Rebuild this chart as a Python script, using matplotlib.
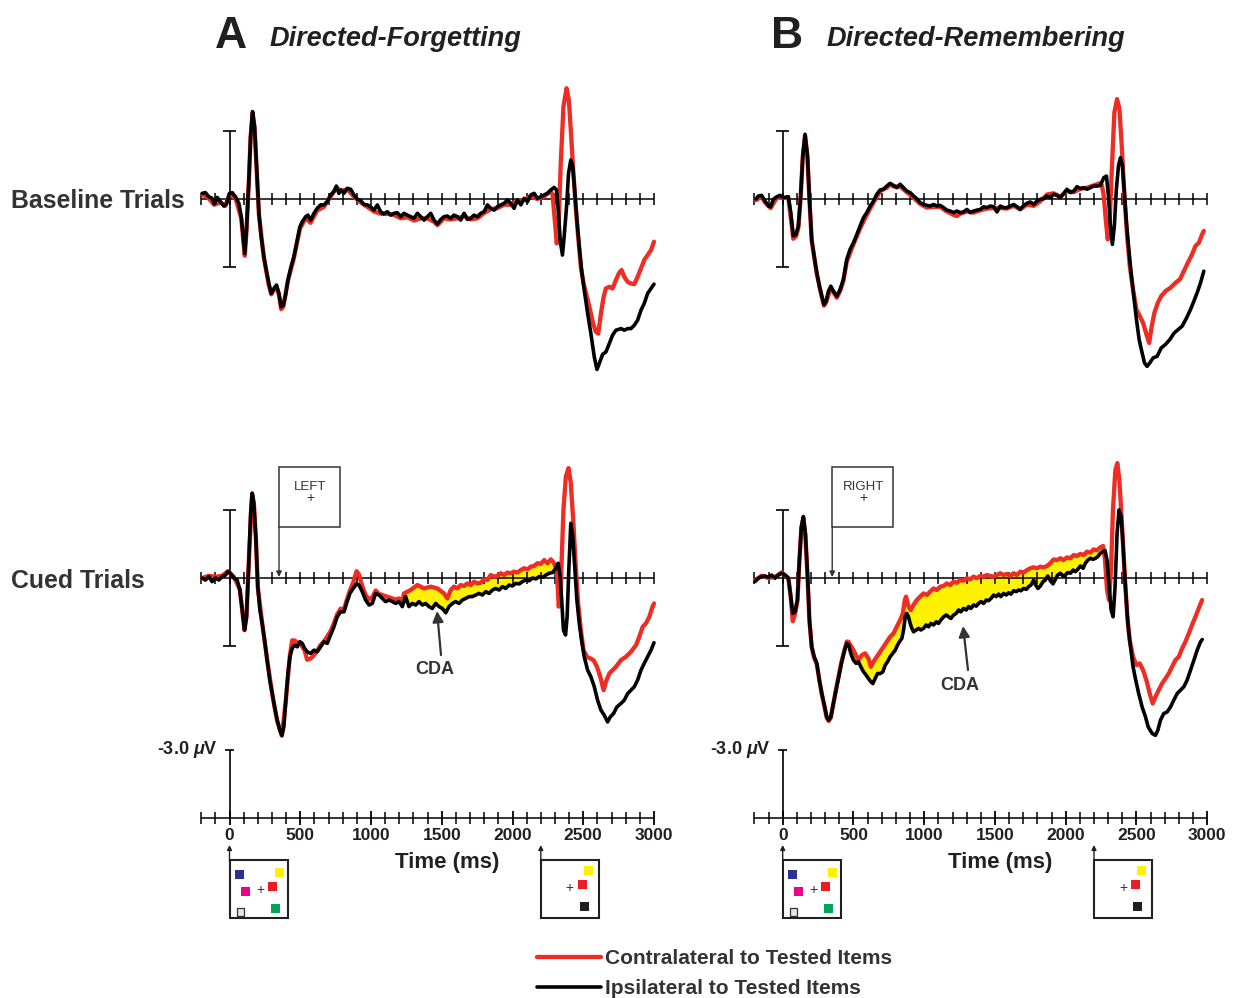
import matplotlib
matplotlib.use("Agg")
import matplotlib.pyplot as plt
import numpy as np
from matplotlib.patches import Rectangle

plt.rcParams['font.family'] = ['Liberation Sans', 'DejaVu Sans']
plt.rcParams['mathtext.fontset'] = 'custom'
plt.rcParams['mathtext.it'] = 'Liberation Sans:italic:bold'
plt.rcParams['mathtext.rm'] = 'Liberation Sans:bold'

# ---------------- data (time ms, amplitude uV; negative plotted up) ----------------
A_BASE_IPSI = [(-193,-0.25),(-170,-0.28),(-146,-0.1),(-123,-0.03),(-106,0.22),(-87,-0.07),(-64,0.12),(-40,0.31),(-21,0.22),(0,-0.25),(19,-0.28),(42,-0.1),(66,0.19),(83,0.78),(97,1.66),(108,2.4),(120,1.37),(137,-0.84),(149,-2.75),(163,-3.85),(177,-3.19),(191,-1.43),(208,0.63),(224,1.66),(243,2.54),(262,3.21),(278,3.72),(295,4.16),(314,3.94),(332,3.79),(349,4.16),(365,4.75),(380,4.68),(396,4.24),(413,3.57),(432,3.06),(455,2.54),(479,1.81),(498,1.22),(514,1.0),(538,0.78),(554,0.71),(573,0.93),(597,0.63),(620,0.41),(644,0.26),(667,0.26),(691,0.12),(714,-0.18),(738,-0.32),(755,-0.57),(773,-0.25),(790,-0.4),(809,-0.25),(832,-0.47),(856,-0.43),(880,-0.18),(903,0.01),(927,0.07),(950,0.24),(974,0.26),(997,0.34),(1021,0.49),(1045,0.26),(1068,0.56),(1092,0.66),(1115,0.56),(1139,0.71),(1162,0.63),(1186,0.6),(1210,0.78),(1233,0.63),(1257,0.71),(1280,0.78),(1304,0.85),(1328,0.63),(1351,0.78),(1375,0.93),(1398,0.78),(1422,0.63),(1445,0.93),(1469,1.1),(1493,0.9),(1516,0.78),(1540,0.75),(1563,0.85),(1587,0.71),(1611,0.78),(1634,0.93),(1658,0.63),(1681,0.9),(1705,0.85),(1728,0.71),(1752,0.78),(1776,0.63),(1799,0.56),(1823,0.26),(1846,0.41),(1870,0.49),(1893,0.34),(1917,0.26),(1941,0.19),(1964,0.04),(1988,0.19),(2011,0.41),(2035,0.04),(2059,0.26),(2082,-0.03),(2106,0.12),(2129,-0.18),(2153,-0.25),(2176,-0.03),(2200,-0.1),(2224,-0.18),(2247,-0.25),(2271,-0.4),(2294,-0.51),(2311,-0.4),(2325,0.63),(2337,1.81),(2353,2.47),(2365,1.66),(2382,0.34),(2396,-1.13),(2412,-1.72),(2426,-1.43),(2441,-0.25),(2455,0.93),(2472,2.1),(2488,3.13),(2507,4.01),(2531,5.04),(2554,5.93),(2578,6.96),(2597,7.51),(2613,7.25),(2637,6.84),(2660,6.74),(2684,6.37),(2707,6.0),(2731,5.78),(2767,5.71),(2790,5.78),(2814,5.71),(2837,5.71),(2861,5.56),(2884,5.34),(2908,4.9),(2931,4.6),(2955,4.16),(2979,3.94),(3000,3.75)]

A_BASE_CONTRA = [(-193,-0.2),(-150,-0.05),(-110,0.25),(-64,0.15),(-30,0.3),(0,-0.2),(42,-0.05),(83,0.85),(108,2.5),(120,1.4),(137,-0.8),(149,-2.7),(163,-3.8),(177,-3.15),(191,-1.4),(208,0.7),(243,2.6),(278,3.8),(295,4.2),(314,4.0),(332,3.85),(349,4.2),(365,4.85),(380,4.75),(413,3.6),(455,2.6),(498,1.3),(538,0.85),(573,1.05),(620,0.5),(667,0.35),(714,-0.1),(755,-0.5),(790,-0.35),(832,-0.42),(880,-0.1),(927,0.15),(974,0.35),(1021,0.55),(1068,0.65),(1115,0.65),(1162,0.7),(1210,0.85),(1257,0.8),(1304,0.95),(1351,0.85),(1398,0.85),(1445,1.0),(1469,1.15),(1516,0.85),(1563,0.9),(1611,0.85),(1658,0.75),(1705,0.9),(1752,0.85),(1799,0.62),(1846,0.45),(1893,0.4),(1941,0.25),(1988,0.25),(2035,0.1),(2082,0.05),(2129,-0.12),(2176,0.0),(2224,-0.12),(2271,-0.35),(2283,-0.18),(2299,0.93),(2313,1.96),(2327,0.93),(2341,-1.57),(2360,-4.07),(2382,-4.88),(2398,-4.37),(2412,-3.04),(2429,-1.28),(2447,0.34),(2464,1.66),(2483,2.99),(2502,3.72),(2526,4.31),(2549,4.9),(2570,5.49),(2589,5.85),(2606,5.93),(2625,5.04),(2644,4.31),(2660,3.94),(2684,3.87),(2707,3.94),(2731,3.57),(2754,3.25),(2771,3.13),(2790,3.43),(2814,3.65),(2837,3.72),(2861,3.75),(2884,3.43),(2908,3.06),(2931,2.69),(2955,2.47),(2979,2.25),(3000,1.88)]

A_CUED_IPSI = [(-193,0.0),(-170,0.09),(-146,-0.06),(-123,0.16),(-99,0.0),(-75,0.09),(-52,-0.06),(-28,-0.13),(-12,-0.28),(7,-0.21),(31,0.0),(54,0.09),(73,0.53),(90,1.41),(106,2.29),(120,1.71),(137,-0.79),(149,-2.85),(160,-3.74),(172,-3.29),(186,-1.82),(200,0.38),(215,1.41),(231,2.0),(248,2.74),(266,3.62),(285,4.5),(302,5.09),(318,5.68),(337,6.26),(356,6.71),(370,6.93),(384,6.56),(398,5.38),(413,4.21),(427,3.47),(443,3.1),(460,2.96),(479,3.03),(498,2.81),(514,2.88),(531,3.1),(549,3.25),(573,3.32),(597,3.18),(620,3.25),(644,3.03),(667,2.81),(691,2.88),(714,2.51),(738,2.15),(761,1.71),(785,1.49),(809,1.49),(827,1.12),(851,0.68),(874,0.46),(898,0.26),(915,0.31),(938,0.6),(962,0.97),(986,1.19),(1009,1.12),(1033,0.68),(1056,0.75),(1080,0.9),(1103,1.04),(1127,0.97),(1151,1.04),(1174,1.12),(1198,1.04),(1221,1.26),(1245,0.82),(1268,1.26),(1292,1.12),(1316,1.19),(1339,1.04),(1363,1.19),(1386,1.12),(1410,1.26),(1433,1.34),(1457,1.12),(1481,1.26),(1504,1.34),(1528,1.53),(1551,1.26),(1575,1.12),(1598,1.04),(1622,1.12),(1645,0.97),(1669,0.9),(1693,0.82),(1716,0.82),(1740,0.75),(1763,0.68),(1787,0.75),(1811,0.6),(1834,0.68),(1858,0.53),(1881,0.46),(1905,0.53),(1929,0.38),(1952,0.46),(1976,0.31),(1999,0.35),(2023,0.24),(2047,0.26),(2070,0.16),(2094,0.09),(2118,0.12),(2141,0.0),(2165,0.04),(2188,-0.06),(2212,-0.03),(2236,-0.13),(2259,-0.21),(2283,-0.24),(2306,-0.43),(2323,-0.65),(2337,-0.06),(2349,1.12),(2360,2.29),(2375,2.51),(2386,1.71),(2398,-0.35),(2412,-2.41),(2426,-1.82),(2441,-0.35),(2455,0.97),(2472,2.0),(2488,2.74),(2507,3.47),(2531,4.06),(2554,4.35),(2578,4.79),(2601,5.38),(2625,5.82),(2648,6.04),(2672,6.34),(2691,6.12),(2714,5.97),(2738,5.68),(2766,5.53),(2790,5.38),(2814,5.09),(2837,4.94),(2861,4.79),(2884,4.5),(2908,4.06),(2931,3.76),(2955,3.47),(2979,3.18),(3000,2.85)]

A_CUED_CONTRA = [(-193,0.0),(-146,-0.1),(-99,-0.05),(-52,-0.1),(-12,-0.3),(31,-0.05),(73,0.5),(106,2.3),(120,1.7),(137,-0.8),(160,-3.7),(172,-3.3),(186,-1.8),(200,0.4),(231,2.0),(266,3.6),(302,5.1),(337,6.3),(370,6.95),(398,5.4),(427,3.4),(443,2.75),(460,2.75),(479,2.85),(498,2.85),(531,3.2),(549,3.6),(573,3.55),(597,3.4),(620,3.2),(644,2.95),(667,2.8),(714,2.35),(738,2.0),(761,1.6),(785,1.35),(809,1.4),(827,1.0),(851,0.55),(874,0.2),(898,-0.3),(915,-0.15),(938,0.35),(962,0.75),(986,0.95),(1009,0.85),(1033,0.55),(1056,0.7),(1080,0.75),(1103,0.8),(1127,0.85),(1151,0.9),(1174,0.95),(1198,0.9),(1221,1.05),(1233,0.68),(1280,0.53),(1328,0.31),(1375,0.46),(1422,0.38),(1469,0.46),(1516,0.68),(1540,0.9),(1563,0.53),(1587,0.38),(1611,0.46),(1634,0.31),(1658,0.35),(1681,0.24),(1705,0.31),(1728,0.16),(1752,0.24),(1776,0.21),(1799,0.06),(1823,0.09),(1846,-0.13),(1870,-0.06),(1893,-0.09),(1917,-0.21),(1941,-0.13),(1964,-0.24),(1988,-0.21),(2011,-0.28),(2035,-0.24),(2059,-0.35),(2082,-0.43),(2106,-0.38),(2129,-0.5),(2153,-0.53),(2176,-0.65),(2200,-0.62),(2224,-0.79),(2247,-0.65),(2271,-0.82),(2294,-0.65),(2313,-0.35),(2327,1.26),(2341,0.38),(2360,-3.0),(2377,-4.47),(2396,-4.84),(2412,-4.18),(2429,-2.56),(2447,-0.5),(2464,1.12),(2483,2.29),(2502,3.18),(2526,3.47),(2549,3.54),(2573,3.62),(2597,3.91),(2620,4.35),(2644,4.94),(2660,4.57),(2684,4.21),(2707,4.06),(2731,3.91),(2766,3.62),(2802,3.47),(2837,3.25),(2873,2.96),(2896,2.59),(2920,2.15),(2943,2.0),(2967,1.71),(2990,1.26),(3000,1.12)]

B_BASE_IPSI = [(-189,0.0),(-172,-0.13),(-149,-0.16),(-125,0.09),(-101,0.31),(-85,0.34),(-66,0.01),(-42,-0.1),(-19,-0.16),(5,-0.06),(40,-0.1),(57,0.6),(75,1.63),(94,1.56),(111,1.19),(127,-0.13),(142,-1.9),(158,-2.85),(175,-1.9),(189,0.01),(205,1.78),(222,2.51),(241,3.25),(259,3.84),(276,4.28),(292,4.65),(307,4.5),(323,4.06),(340,3.84),(358,4.06),(382,4.28),(406,3.99),(429,3.54),(453,2.66),(476,2.22),(500,1.93),(524,1.56),(547,1.19),(571,0.82),(594,0.6),(618,0.31),(642,0.09),(665,-0.21),(689,-0.4),(712,-0.43),(736,-0.57),(759,-0.69),(783,-0.6),(807,-0.5),(830,-0.65),(854,-0.5),(877,-0.35),(901,-0.28),(925,-0.13),(948,-0.01),(972,0.16),(995,0.24),(1019,0.28),(1042,0.31),(1066,0.24),(1090,0.31),(1113,0.28),(1137,0.38),(1160,0.49),(1184,0.53),(1208,0.6),(1231,0.53),(1255,0.6),(1278,0.57),(1302,0.46),(1325,0.6),(1349,0.53),(1373,0.49),(1396,0.46),(1420,0.34),(1443,0.38),(1467,0.31),(1491,0.34),(1514,0.57),(1538,0.31),(1561,0.38),(1585,0.38),(1608,0.31),(1632,0.24),(1656,0.34),(1679,0.46),(1703,0.28),(1726,0.19),(1750,0.13),(1774,0.24),(1797,0.09),(1821,0.01),(1844,-0.01),(1868,-0.13),(1892,-0.06),(1915,-0.21),(1939,-0.16),(1962,-0.06),(1986,-0.25),(2009,-0.43),(2033,-0.28),(2057,-0.35),(2080,-0.54),(2104,-0.46),(2127,-0.5),(2151,-0.43),(2175,-0.5),(2198,-0.57),(2222,-0.57),(2245,-0.6),(2269,-0.94),(2288,-1.01),(2302,-0.13),(2316,1.19),(2330,2.0),(2344,1.19),(2358,-0.43),(2373,-1.46),(2387,-1.82),(2401,-1.46),(2415,-0.28),(2429,1.04),(2446,2.22),(2462,3.25),(2481,4.28),(2500,5.31),(2519,6.19),(2540,6.78),(2557,7.22),(2575,7.37),(2594,7.22),(2618,7.0),(2646,6.93),(2675,6.56),(2705,6.41),(2736,6.19),(2767,5.9),(2795,5.75),(2823,5.6),(2854,5.24),(2882,4.87),(2906,4.5),(2929,4.13),(2953,3.69),(2976,3.18)]

B_BASE_CONTRA = [(-189,0.05),(-149,-0.1),(-125,0.15),(-85,0.4),(-42,-0.05),(5,-0.05),(40,-0.05),(75,1.75),(94,1.65),(111,1.25),(127,-0.1),(142,-1.85),(158,-2.8),(175,-1.85),(189,0.05),(205,1.85),(241,3.3),(276,4.3),(292,4.7),(307,4.55),(340,3.9),(382,4.35),(406,4.05),(429,3.6),(453,2.75),(500,2.0),(547,1.3),(594,0.7),(642,0.15),(689,-0.35),(736,-0.5),(759,-0.65),(783,-0.55),(830,-0.55),(877,-0.3),(925,-0.05),(972,0.22),(1019,0.38),(1066,0.35),(1113,0.35),(1160,0.55),(1208,0.7),(1231,0.75),(1255,0.65),(1302,0.55),(1349,0.6),(1396,0.5),(1443,0.42),(1491,0.4),(1538,0.4),(1585,0.42),(1632,0.3),(1679,0.45),(1726,0.25),(1774,0.3),(1821,0.1),(1868,-0.2),(1915,-0.25),(1962,-0.1),(2009,-0.35),(2057,-0.3),(2104,-0.45),(2151,-0.5),(2198,-0.6),(2245,-0.7),(2257,-0.57),(2269,-0.13),(2283,0.9),(2297,1.78),(2311,0.9),(2328,-1.6),(2344,-3.81),(2363,-4.4),(2380,-3.96),(2396,-2.34),(2415,-0.13),(2434,1.63),(2453,2.96),(2476,3.99),(2500,4.87),(2524,5.16),(2547,5.46),(2571,5.97),(2590,6.34),(2608,5.6),(2627,5.01),(2651,4.57),(2675,4.28),(2705,4.06),(2741,3.91),(2776,3.69),(2807,3.54),(2835,3.18),(2863,2.81),(2893,2.44),(2917,2.07),(2941,1.93),(2964,1.56),(2976,1.41)]

B_CUED_IPSI = [(-196,0.16),(-172,0.01),(-149,-0.06),(-125,-0.09),(-101,-0.03),(-78,-0.13),(-54,0.01),(-31,-0.13),(-7,-0.21),(17,-0.13),(40,0.01),(57,0.82),(71,1.56),(87,1.49),(104,0.97),(118,-0.79),(132,-2.26),(146,-2.71),(160,-1.97),(175,-0.21),(189,1.85),(205,3.03),(222,3.47),(241,3.76),(259,4.5),(276,5.09),(292,5.53),(311,6.12),(325,6.26),(340,6.12),(358,5.53),(377,4.94),(396,4.35),(415,3.76),(434,3.25),(453,2.88),(467,2.96),(481,3.32),(500,3.62),(519,3.76),(535,3.69),(552,3.91),(571,4.13),(590,4.28),(606,4.43),(623,4.57),(637,4.65),(653,4.43),(670,4.21),(689,4.21),(708,4.13),(724,3.84),(741,3.69),(759,3.47),(778,3.32),(795,3.18),(811,2.96),(825,2.81),(842,2.66),(854,2.29),(866,1.71),(877,1.56),(889,1.71),(901,2.0),(913,2.22),(925,2.37),(943,2.29),(960,2.22),(976,2.29),(995,2.22),(1014,2.07),(1031,2.15),(1047,2.0),(1066,2.07),(1085,1.93),(1101,2.0),(1118,1.85),(1137,1.71),(1156,1.63),(1172,1.71),(1189,1.78),(1208,1.63),(1226,1.56),(1243,1.41),(1259,1.49),(1278,1.34),(1297,1.41),(1314,1.26),(1330,1.34),(1349,1.19),(1368,1.24),(1384,1.12),(1401,1.04),(1420,1.12),(1439,0.97),(1455,1.0),(1472,0.9),(1491,0.75),(1509,0.82),(1526,0.71),(1542,0.82),(1561,0.68),(1580,0.75),(1597,0.65),(1613,0.71),(1632,0.56),(1651,0.6),(1667,0.53),(1684,0.56),(1703,0.46),(1722,0.5),(1738,0.38),(1755,0.31),(1774,0.09),(1788,0.31),(1804,0.46),(1821,0.35),(1840,0.16),(1856,0.09),(1873,-0.09),(1892,0.12),(1910,0.26),(1927,0.06),(1943,-0.13),(1962,-0.21),(1981,-0.09),(1998,-0.13),(2014,-0.24),(2033,-0.21),(2052,-0.35),(2068,-0.28),(2085,-0.38),(2104,-0.53),(2123,-0.43),(2139,-0.65),(2156,-0.79),(2175,-0.87),(2193,-0.82),(2210,-0.87),(2226,-0.94),(2245,-1.09),(2264,-1.16),(2278,-1.21),(2292,-0.79),(2307,0.38),(2321,1.41),(2335,1.71),(2349,0.38),(2363,-1.97),(2377,-3.0),(2392,-2.71),(2406,-1.38),(2422,0.38),(2439,2.0),(2458,3.03),(2476,3.91),(2495,4.5),(2516,5.09),(2540,5.68),(2564,6.12),(2583,6.56),(2611,6.85),(2634,6.93),(2651,6.71),(2670,6.26),(2693,5.97),(2717,5.9),(2741,5.68),(2764,5.38),(2788,5.09),(2811,4.94),(2835,4.79),(2858,4.5),(2882,4.06),(2906,3.62),(2929,3.18),(2953,2.81),(2965,2.71)]

B_CUED_CONTRA = [(-196,0.1),(-149,-0.1),(-101,0.0),(-54,-0.05),(-7,-0.25),(40,0.0),(57,0.85),(71,1.9),(87,1.6),(104,1.0),(118,-0.75),(132,-2.2),(146,-2.65),(160,-1.9),(175,-0.1),(189,1.9),(205,3.05),(222,3.5),(241,3.8),(259,4.5),(276,5.1),(311,6.15),(325,6.3),(340,6.15),(377,4.9),(415,3.7),(453,2.8),(465,2.81),(500,3.18),(535,3.62),(559,3.4),(582,3.32),(606,3.54),(623,3.91),(641,3.69),(665,3.47),(689,3.25),(712,3.03),(736,2.81),(759,2.59),(783,2.44),(806,2.15),(830,1.85),(849,1.56),(863,0.97),(872,0.82),(889,1.26),(905,1.41),(924,1.19),(948,0.97),(971,0.82),(995,0.68),(1019,0.75),(1042,0.6),(1066,0.46),(1089,0.53),(1113,0.38),(1137,0.35),(1160,0.24),(1184,0.31),(1207,0.16),(1231,0.21),(1254,0.09),(1278,0.12),(1301,0.01),(1325,0.06),(1349,-0.06),(1372,0.01),(1396,-0.09),(1419,-0.06),(1443,-0.13),(1467,-0.09),(1490,-0.06),(1514,-0.13),(1537,-0.21),(1561,-0.13),(1585,-0.18),(1608,-0.09),(1632,-0.21),(1655,-0.13),(1679,-0.28),(1702,-0.24),(1726,-0.35),(1750,-0.43),(1773,-0.47),(1797,-0.43),(1820,-0.5),(1844,-0.47),(1868,-0.53),(1891,-0.65),(1915,-0.82),(1938,-0.79),(1962,-0.87),(1985,-0.79),(2009,-0.91),(2033,-0.87),(2056,-1.01),(2080,-0.97),(2103,-1.06),(2127,-1.01),(2150,-1.16),(2174,-1.12),(2198,-1.26),(2221,-1.22),(2245,-1.35),(2264,-1.41),(2278,-0.79),(2292,0.53),(2306,0.97),(2320,-0.35),(2334,-3.0),(2351,-4.76),(2365,-5.06),(2379,-4.32),(2396,-2.56),(2415,-0.35),(2434,1.56),(2452,2.74),(2476,3.47),(2500,3.84),(2523,3.76),(2547,4.06),(2570,4.5),(2594,5.09),(2615,5.53),(2634,5.24),(2657,4.94),(2681,4.65),(2705,4.43),(2728,4.21),(2752,3.91),(2775,3.62),(2799,3.47),(2823,3.1),(2846,2.81),(2870,2.44),(2893,2.07),(2917,1.71),(2940,1.34),(2964,0.97)]

TICK_TIMES = list(range(-200, 3001, 100))
TICK_LABELS = [0, 500, 1000, 1500, 2000, 2500, 3000]
CDA_WINDOW_A = (1230, 2320)
CDA_WINDOW_B = (470, 2295)
CUE_T = 350
MEM_T = 0
TEST_T = 2200
SCALE_UV = 3.0

# ---------------- layout ----------------
W, H = 1235, 998
SX, SY = 0.1415, 22.7
X0_L, X0_R = 229.5, 782.7
Y0_BASE, Y0_CUED, Y0_AXIS = 199, 578, 818
RED = '#EE2D24'
YEL = '#FFF200'
TXT = '#231F20'

fig = plt.figure(figsize=(W / 100, H / 100), dpi=100)


def make_axes(x0, y0, vtop, vbot, tmin=-260, tmax=3060):
    left = x0 + SX * tmin
    right = x0 + SX * tmax
    top = y0 + SY * vtop
    bot = y0 + SY * vbot
    ax = fig.add_axes([left / W, 1 - bot / H, (right - left) / W, (bot - top) / H])
    ax.set_xlim(tmin, tmax)
    ax.set_ylim(vbot, vtop)
    ax.axis('off')
    ax.patch.set_alpha(0)
    return ax


def panel(x0, y0, contra, ipsi, window=None):
    ax = make_axes(x0, y0, -6.0, 8.3)
    ax.hlines(0, TICK_TIMES[0], TICK_TIMES[-1], color='k', lw=1.1, zorder=4)
    ax.vlines(TICK_TIMES, -0.27, 0.27, color='k', lw=1.1, zorder=4)
    ax.vlines(0, -SCALE_UV, SCALE_UV, color='k', lw=1.2, zorder=4)
    ax.hlines([-SCALE_UV, SCALE_UV], -45, 45, color='k', lw=1.2, zorder=4)
    tc, vc = zip(*contra)
    ti, vi = zip(*ipsi)
    if window is not None:
        grid = np.arange(window[0], window[1] + 1, 1.0)
        r = np.interp(grid, tc, vc)
        b = np.interp(grid, ti, vi)
        ax.fill_between(grid, r, b, where=b > r, color=YEL, lw=0, interpolate=True, zorder=3)
    lc, = ax.plot(tc, vc, color=RED, lw=3.1, zorder=5, solid_joinstyle='round',
                  solid_capstyle='round', clip_on=False)
    li, = ax.plot(ti, vi, color='k', lw=2.6, zorder=6, solid_joinstyle='round',
                  solid_capstyle='round', clip_on=False)
    return ax, lc, li


axA1, lc, li = panel(X0_L, Y0_BASE, A_BASE_CONTRA, A_BASE_IPSI)
axA2, _, _ = panel(X0_L, Y0_CUED, A_CUED_CONTRA, A_CUED_IPSI, CDA_WINDOW_A)
axB1, _, _ = panel(X0_R, Y0_BASE, B_BASE_CONTRA, B_BASE_IPSI)
axB2, _, _ = panel(X0_R, Y0_CUED, B_CUED_CONTRA, B_CUED_IPSI, CDA_WINDOW_B)

# bottom time axes
for x0 in (X0_L, X0_R):
    ax = make_axes(x0, Y0_AXIS, -3.6, 2.6)
    ax.hlines(0, TICK_TIMES[0], TICK_TIMES[-1], color='k', lw=1.1)
    major = [t for t in TICK_TIMES if t % 500 == 0]
    minor = [t for t in TICK_TIMES if t % 500 != 0]
    ax.vlines(minor, -0.27, 0.27, color='k', lw=1.1)
    ax.vlines(major, -0.32, 0.32, color='k', lw=1.3)
    ax.vlines(0, -SCALE_UV, 0, color='k', lw=1.2)
    ax.hlines(-SCALE_UV, -30, 30, color='k', lw=1.2)
    for t in TICK_LABELS:
        ax.text(t, 0.78, str(t), ha='center', va='center', fontsize=12.5,
                fontweight='bold', color=TXT)
    ax.text(1540, 1.95, 'Time (ms)', ha='center', va='center', fontsize=16,
            fontweight='bold', color=TXT)
    ax.text(-82, -SCALE_UV, r'-3.0 $\mathit{\mu}$V', ha='right', va='center',
            fontsize=13, fontweight='bold', color=TXT)

# overlay in pixel coordinates for annotations
ov = fig.add_axes([0, 0, 1, 1])
ov.set_xlim(0, W)
ov.set_ylim(H, 0)
ov.axis('off')
ov.patch.set_alpha(0)

# titles
ov.text(215, 48, 'A', fontsize=32, fontweight='bold', color=TXT, va='baseline')
ov.text(270, 46, 'Directed-Forgetting', fontsize=19.5, fontweight='bold',
        style='italic', color=TXT, va='baseline')
ov.text(771, 48, 'B', fontsize=32, fontweight='bold', color=TXT, va='baseline')
ov.text(827, 46, 'Directed-Remembering', fontsize=19.5, fontweight='bold',
        style='italic', color=TXT, va='baseline')

# row labels
ov.text(11, 208, 'Baseline Trials', fontsize=17.9, fontweight='bold', color='#333333', va='baseline')
ov.text(11, 588, 'Cued Trials', fontsize=17.9, fontweight='bold', color='#333333', va='baseline')


def px(x0, t):
    return x0 + SX * t


# cue boxes
for x0, word in ((X0_L, 'LEFT'), (X0_R, 'RIGHT')):
    cx = px(x0, CUE_T)
    ov.add_patch(Rectangle((cx, 467), 61, 60, fill=False, ec='#444444', lw=1.2))
    ov.text(cx + 31, 487, word, ha='center', va='center', fontsize=9.5, color='#333333')
    ov.text(cx + 31, 498, '+', ha='center', va='center', fontsize=10, color='#333333')
    ov.annotate('', xy=(cx, 577), xytext=(cx, 527),
                arrowprops=dict(arrowstyle='-|>', lw=1.0, color='#333333',
                                mutation_scale=8, shrinkA=0, shrinkB=0))

# CDA labels
ov.annotate('', xy=(437, 611), xytext=(441, 655),
            arrowprops=dict(arrowstyle='-|>', lw=1.6, color='#333333',
                            mutation_scale=16, shrinkA=0, shrinkB=0))
ov.text(435, 669, 'CDA', ha='center', va='center', fontsize=13, fontweight='bold', color='#333333')
ov.annotate('', xy=(963, 626), xytext=(968, 670),
            arrowprops=dict(arrowstyle='-|>', lw=1.6, color='#333333',
                            mutation_scale=16, shrinkA=0, shrinkB=0))
ov.text(960, 685, 'CDA', ha='center', va='center', fontsize=13, fontweight='bold', color='#333333')

# stimulus displays
MEM_SQUARES = [((5, 10), '#2E3192'), ((45, 8), '#FFF200'), ((11, 27), '#EC008C'),
               ((38, 22), '#ED1C24'), ((41, 44), '#00A651')]
TEST_SQUARES = [((43, 6), '#FFF200'), ((37, 20), '#ED1C24'), ((39, 42), '#231F20')]


def stim_box(x, squares, plus, gray=False):
    ov.add_patch(Rectangle((x, 860), 58, 58, fill=False, ec=TXT, lw=1.5))
    ov.annotate('', xy=(x, 845), xytext=(x, 861),
                arrowprops=dict(arrowstyle='-|>', lw=1.0, color=TXT,
                                mutation_scale=7, shrinkA=0, shrinkB=0))
    for (dx, dy), c in squares:
        ov.add_patch(Rectangle((x + dx, 860 + dy), 9, 9, fc=c, ec='none'))
    if gray:
        ov.add_patch(Rectangle((x + 7, 860 + 48), 7.5, 7.5, fc='#E6E6E6', ec='#333333', lw=0.9))
    ov.text(x + plus[0], 860 + plus[1], '+', ha='center', va='center', fontsize=10, color='#333333')


for x0 in (X0_L, X0_R):
    stim_box(px(x0, MEM_T), MEM_SQUARES, (31, 30), gray=True)
    stim_box(px(x0, TEST_T), TEST_SQUARES, (29, 28))

# legend
leg = fig.legend([lc, li], ['Contralateral to Tested Items', 'Ipsilateral to Tested Items'],
                 loc='upper left', bbox_to_anchor=(537 / W, 1 - 949 / H), frameon=False,
                 borderpad=0, borderaxespad=0, handlelength=3.05, handletextpad=0.22,
                 labelspacing=0.52, prop={'family': 'Liberation Sans', 'weight': 'bold', 'size': 15})
for t in leg.get_texts():
    t.set_color('#333333')

fig.savefig('out.png', dpi=100)
